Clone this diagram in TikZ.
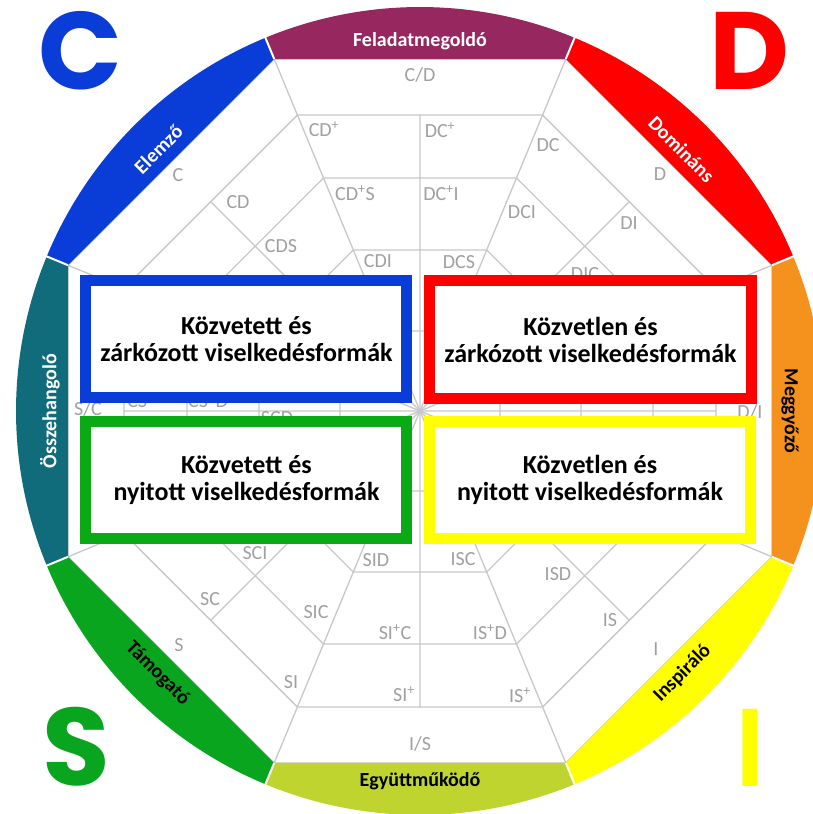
\documentclass[tikz,border=0pt]{standalone}
\usepackage{fontspec}
\setmainfont{Carlito}
\newfontfamily\bigfont{Poppins}
\definecolor{gridgray}{RGB}{200,200,200}
\definecolor{lblgray}{RGB}{160,160,160}
\definecolor{feladatcol}{RGB}{150,40,95}
\definecolor{elemzocol}{RGB}{10,60,215}
\definecolor{osszecol}{RGB}{16,108,122}
\definecolor{tamogatcol}{RGB}{10,165,30}
\definecolor{egyuttcol}{RGB}{192,212,48}
\definecolor{inspircol}{RGB}{255,255,0}
\definecolor{meggyozcol}{RGB}{245,146,30}
\definecolor{dominanscol}{RGB}{255,0,0}
\definecolor{boxgreen}{RGB}{10,170,20}
\tikzset{
  lbl/.style={text=lblgray, font=\fontsize{20}{20}\selectfont, inner sep=0pt},
  bandlbl/.style={font=\fontsize{20}{20}\selectfont\bfseries, inner sep=0pt},
  bigletter/.style={font=\bigfont\fontsize{110}{110}\selectfont\bfseries, inner sep=0pt},
  quadbox/.style={draw, line width=11pt, fill=white, minimum width=321pt, minimum height=117pt,
    align=center, font=\fontsize{26}{27}\selectfont\bfseries, inner sep=0pt},
  gridline/.style={gridgray, line width=1.3pt}
}
\begin{document}
\begin{tikzpicture}[x=1pt,y=1pt]
\useasboundingbox (-420,-403) rectangle (393,411);
\fill[white] (-420,-403) rectangle (393,411);

\draw[gridline] (22.5:381) -- (67.5:381) -- (112.5:381) -- (157.5:381) -- (202.5:381) -- (247.5:381) -- (292.5:381) -- (337.5:381) -- cycle;
\draw[gridline] (22.5:320.4) -- (67.5:320.4) -- (112.5:320.4) -- (157.5:320.4) -- (202.5:320.4) -- (247.5:320.4) -- (292.5:320.4) -- (337.5:320.4) -- cycle;
\draw[gridline] (22.5:252.2) -- (67.5:252.2) -- (112.5:252.2) -- (157.5:252.2) -- (202.5:252.2) -- (247.5:252.2) -- (292.5:252.2) -- (337.5:252.2) -- cycle;
\draw[gridline] (22.5:174.3) -- (67.5:174.3) -- (112.5:174.3) -- (157.5:174.3) -- (202.5:174.3) -- (247.5:174.3) -- (292.5:174.3) -- (337.5:174.3) -- cycle;
\draw[gridline] (22.5:86.6) -- (67.5:86.6) -- (112.5:86.6) -- (157.5:86.6) -- (202.5:86.6) -- (247.5:86.6) -- (292.5:86.6) -- (337.5:86.6) -- cycle;
\draw[gridline] (22.5:381) -- (202.5:381) (67.5:381) -- (247.5:381) (112.5:381) -- (292.5:381) (157.5:381) -- (337.5:381);
\draw[gridline] (0:296) -- (180:296) (45:296) -- (225:296) (90:296) -- (270:296) (135:296) -- (315:296);

\node[lbl] (cd0) at (0,336) {C/D};
\node[lbl] (cdp) at (-96,282) {CD\textsuperscript{+}};
\node[lbl] (dcp) at (20,281) {DC\textsuperscript{+}};
\node[lbl] (cdps) at (-65,218) {CD\textsuperscript{+}S};
\node[lbl] (dcpi) at (21,218) {DC\textsuperscript{+}I};
\node[lbl] (cdi) at (-42,150) {CDI};
\node[lbl] (dcs) at (39,149) {DCS};
\node[lbl] (c0) at (-242,236) {C};
\node[lbl] (cd) at (-182,209) {CD};
\node[lbl] (cds) at (-139,165) {CDS};
\node[lbl] (d0) at (240,237) {D};
\node[lbl] (dc) at (128,266) {DC};
\node[lbl] (dci) at (102,199) {DCI};
\node[lbl] (di) at (209,188) {DI};
\node[lbl] (dic) at (165,137) {DIC};
\node[lbl] (sc0) at (-332,2) {S/C};
\node[lbl] (csp) at (-279,11) {CS\textsuperscript{+}};
\node[lbl] (cspd) at (-212,11) {CS\textsuperscript{+}D};
\node[lbl] (scd) at (-143,-7) {SCD};
\node[lbl] (di0) at (330,-1) {D/I};
\node[lbl] (s0) at (-241,-234) {S};
\node[lbl] (sc) at (-210,-188) {SC};
\node[lbl] (si) at (-129,-271) {SI};
\node[lbl] (sci) at (-165,-142) {SCI};
\node[lbl] (sic) at (-104,-201) {SIC};
\node[lbl] (sipc) at (-25,-221) {SI\textsuperscript{+}C};
\node[lbl] (sip) at (-16,-283) {SI\textsuperscript{+}};
\node[lbl] (sid) at (-44,-149) {SID};
\node[lbl] (isc) at (43,-148) {ISC};
\node[lbl] (ispd) at (70,-221) {IS\textsuperscript{+}D};
\node[lbl] (isp) at (100,-284) {IS\textsuperscript{+}};
\node[lbl] (isd) at (138,-163) {ISD};
\node[lbl] (is) at (190,-209) {IS};
\node[lbl] (i0) at (236,-238) {I};
\node[lbl] (is0) at (0,-333) {I/S};

\fill[meggyozcol] (-22.5:381) -- (-22.5:404) arc[start angle=-22.5, end angle=22.5, radius=404] -- (22.5:381) -- cycle;
\fill[dominanscol] (22.5:381) -- (22.5:404) arc[start angle=22.5, end angle=67.5, radius=404] -- (67.5:381) -- cycle;
\fill[feladatcol] (67.5:381) -- (67.5:404) arc[start angle=67.5, end angle=112.5, radius=404] -- (112.5:381) -- cycle;
\fill[elemzocol] (112.5:381) -- (112.5:404) arc[start angle=112.5, end angle=157.5, radius=404] -- (157.5:381) -- cycle;
\fill[osszecol] (157.5:381) -- (157.5:404) arc[start angle=157.5, end angle=202.5, radius=404] -- (202.5:381) -- cycle;
\fill[tamogatcol] (202.5:381) -- (202.5:404) arc[start angle=202.5, end angle=247.5, radius=404] -- (247.5:381) -- cycle;
\fill[egyuttcol] (247.5:381) -- (247.5:404) arc[start angle=247.5, end angle=292.5, radius=404] -- (292.5:381) -- cycle;
\fill[inspircol] (292.5:381) -- (292.5:404) arc[start angle=292.5, end angle=337.5, radius=404] -- (337.5:381) -- cycle;
\draw[white, line width=2pt] (22.5:381) -- (22.5:410) (67.5:381) -- (67.5:410) (112.5:381) -- (112.5:410) (157.5:381) -- (157.5:410)
  (202.5:381) -- (202.5:410) (247.5:381) -- (247.5:410) (292.5:381) -- (292.5:410) (337.5:381) -- (337.5:410);

\node[bandlbl, text=white] (feladat) at (90:370) {Feladatmegoldó};
\node[bandlbl, text=white, rotate=45] (elemzo) at (135:370) {Elemző};
\node[bandlbl, text=white, rotate=90] (osszehang) at (180:370) {Összehangoló};
\node[bandlbl, rotate=-45] (tamogato) at (225:371) {Támogató};
\node[bandlbl] (egyutt) at (270:370) {Együttműködő};
\node[bandlbl, rotate=45] (inspiralo) at (315:371) {Inspiráló};
\node[bandlbl, rotate=-90] (meggyozo) at (0:370) {Meggyőző};
\node[bandlbl, text=white, rotate=-45] (dominans) at (45:370) {Domináns};

\node[bigletter, text=elemzocol] (bigc) at (-340,360) {C};
\node[bigletter, text=dominanscol] (bigd) at (329,360) {D};
\node[bigletter, text=tamogatcol] (bigs) at (-344,-336) {S};
\node[bigletter, text=inspircol, xscale=0.8] (bigi) at (330,-337) {I};

\node[quadbox, draw=elemzocol] (cbox) at (-173.5,72) {Közvetett és\\zárkózott viselkedésformák};
\node[quadbox, draw=dominanscol] (dbox) at (170.5,71.5) {Közvetlen és\\zárkózott viselkedésformák};
\node[quadbox, draw=boxgreen] (sbox) at (-173.5,-69) {Közvetett és\\nyitott viselkedésformák};
\node[quadbox, draw=inspircol] (ibox) at (170,-69) {Közvetlen és\\nyitott viselkedésformák};
\end{tikzpicture}
\end{document}
